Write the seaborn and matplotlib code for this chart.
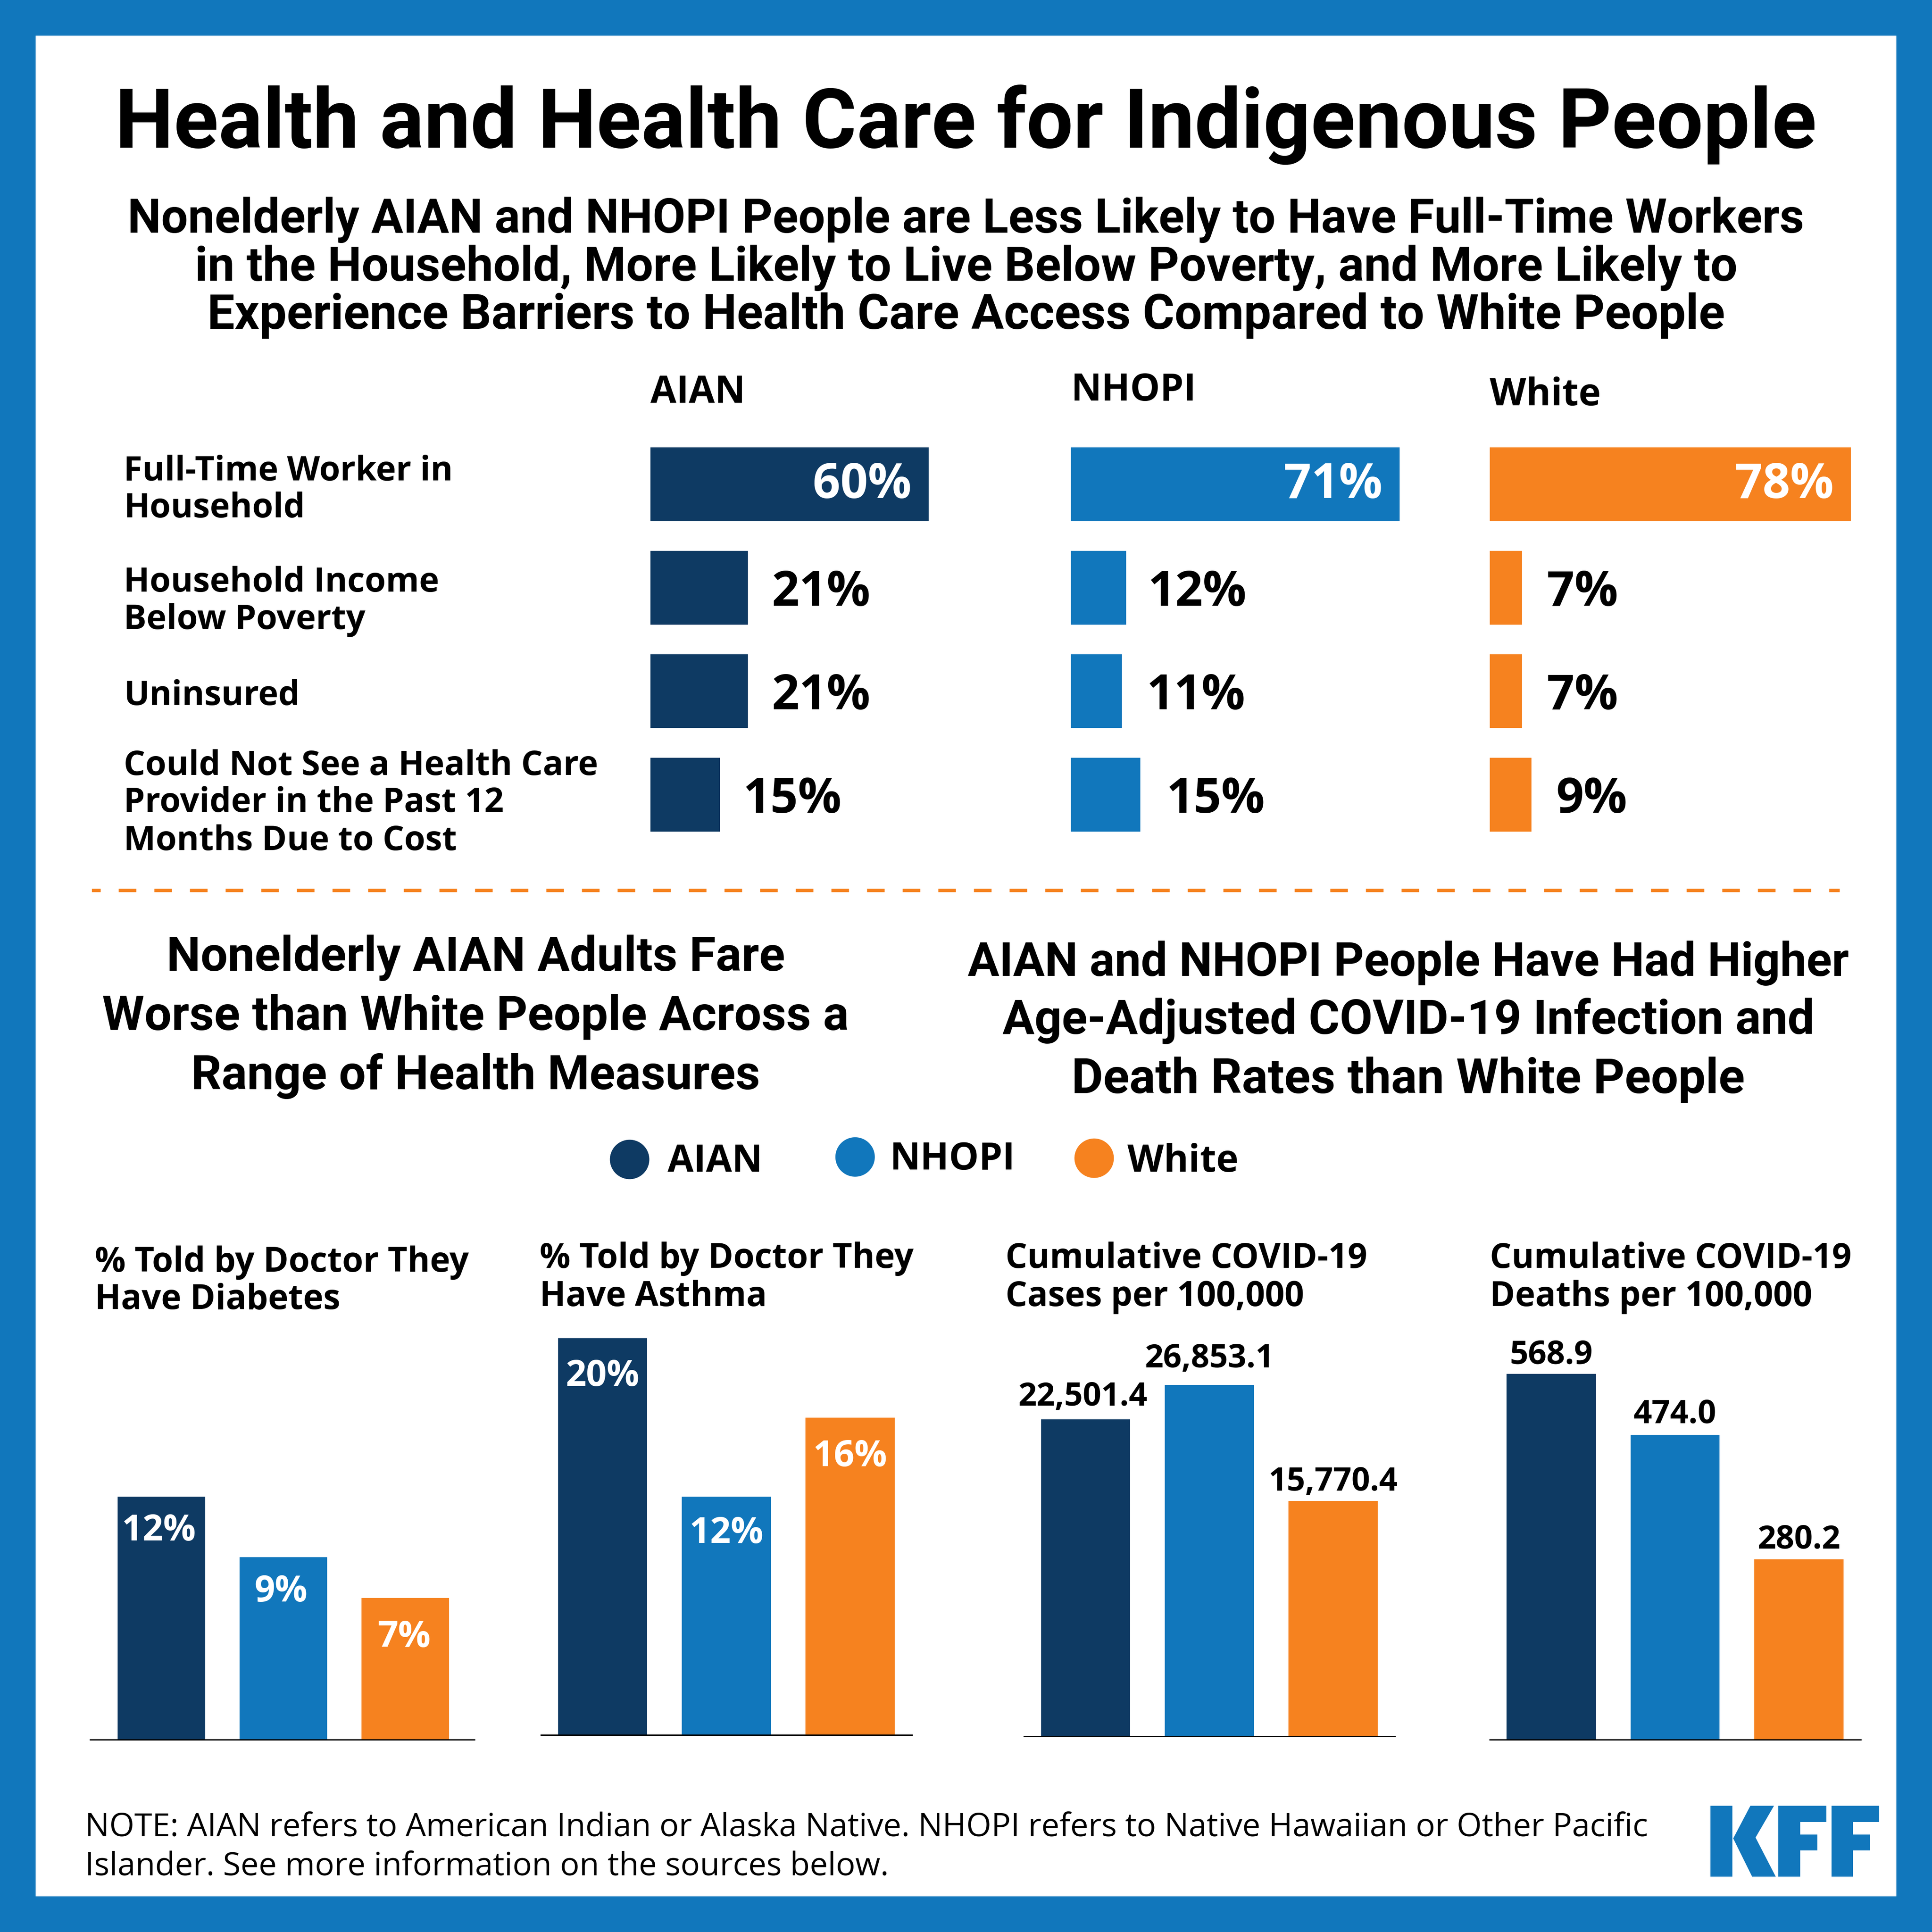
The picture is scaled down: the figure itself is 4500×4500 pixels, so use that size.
import matplotlib
matplotlib.use("Agg")
import matplotlib.pyplot as plt
from matplotlib.patches import Rectangle, Circle, Polygon
import seaborn as sns

sns.set_style("white")
plt.rcParams['font.family'] = ['Open Sans', 'DejaVu Sans']

NAVY = "#0E3A63"
BLUE = "#1177BC"
ORANGE = "#F6821F"
BLACK = "#000000"
HEAD = "Roboto"
BODY = "Open Sans"
U = 1568.0  # layout units of the overlay

groups = ["AIAN", "NHOPI", "White"]
palette = dict(zip(groups, [NAVY, BLUE, ORANGE]))

title = "Health and Health Care for Indigenous People"
subtitle = ["Nonelderly AIAN and NHOPI People are Less Likely to Have Full-Time Workers",
            "in the Household, More Likely to Live Below Poverty, and More Likely to",
            "Experience Barriers to Health Care Access Compared to White People"]
row_labels = [["Full-Time Worker in", "Household"],
              ["Household Income", "Below Poverty"],
              ["Uninsured"],
              ["Could Not See a Health Care", "Provider in the Past 12", "Months Due to Cost"]]
row_names = ["Full-Time Worker", "Below Poverty", "Uninsured", "Could Not See Provider"]
aian_rates = [60, 21, 21, 15]
nhopi_rates = [71, 12, 11, 15]
white_rates = [78, 7, 7, 9]

left_heading = ["Nonelderly AIAN Adults Fare", "Worse than White People Across a", "Range of Health Measures"]
right_heading = ["AIAN and NHOPI People Have Had Higher", "Age-Adjusted COVID-19 Infection and", "Death Rates than White People"]

diabetes = [12, 9, 7]
asthma = [20, 12, 16]
# bar lengths as drawn in the picture (not proportional to the printed numbers)
covid_cases_drawn = [24215, 26853.1, 17996]
covid_cases_labels = ["22,501.4", "26,853.1", "15,770.4"]
covid_deaths = [568.9, 474.0, 280.2]
covid_deaths_labels = ["568.9", "474.0", "280.2"]
note = ["NOTE: AIAN refers to American Indian or Alaska Native. NHOPI refers to Native Hawaiian or Other Pacific",
        "Islander. See more information on the sources below."]

fig = plt.figure(figsize=(15, 15), dpi=300, facecolor=BLUE)
ov = fig.add_axes([0, 0, 1, 1], zorder=0)
ov.set_xlim(0, U); ov.set_ylim(U, 0); ov.axis("off")
ov.add_patch(Rectangle((29, 29), 1510, 1510, fc="white", ec="none"))

PT = 4500 / U * 72 / 300  # points per layout unit


def T(x, y, s, size, font=BODY, weight="bold", ha="left", color=BLACK):
    ov.text(x, y, s, fontsize=size, family=font, fontweight=weight, ha=ha, va="baseline", color=color)


def px_axes(x0, y0, x1, y1):
    ax = fig.add_axes([x0 / U, 1 - y1 / U, (x1 - x0) / U, (y1 - y0) / U], zorder=2)
    ax.patch.set_alpha(0)
    return ax


T(784, 120, title, 46.3, HEAD, ha="center")
for y, s, fs in zip([189, 228, 267], subtitle, [26.6, 26.85, 27.1]):
    T(784, y, s, fs, HEAD, "semibold", "center")

for x, y, g in zip([528, 869, 1209], [327, 325, 329], groups):
    T(x, y, g, 21)
for ys, lines in zip([[390, 420], [480, 510.5], [572], [629, 659, 690]], row_labels):
    for y, s in zip(ys, lines):
        T(100.5, y, s, 19)


def hbars(x0, rates, color, offs):
    ax = px_axes(x0, 351, x0 + 310, 687)
    sns.barplot(x=rates, y=row_names, color=color, width=60 / 84, orient="h", ax=ax, saturation=1, linewidth=0)
    ax.set_xlim(0, 310 / 3.76)
    ax.set_ylim(3.5, -0.5)
    ax.axis("off")
    for i, v in enumerate(rates):
        if v > 50:
            ax.annotate(f"{v}%", (v, i), xytext=(-14 * PT, -1 * PT), textcoords="offset points", ha="right",
                        va="center", fontsize=27, fontweight="bold", color="white", family=BODY)
        else:
            ax.annotate(f"{v}%", (v, i), xytext=(offs[i] * PT, -4.5 * PT), textcoords="offset points", ha="left",
                        va="center", fontsize=27, fontweight="bold", color=BLACK, family=BODY)


hbars(528, aian_rates, NAVY, [0, 19.5, 19.5, 18.5])
hbars(869, nhopi_rates, BLUE, [0, 17.5, 20, 21])
hbars(1209, white_rates, ORANGE, [0, 20, 20, 20])

ov.plot([74.6, 1493], [722.6, 722.6], color=ORANGE, lw=1.92,
        linestyle=(2.56, (5.125, 5.25)), dash_capstyle="butt")

for y, s, fs in zip([788, 836, 884], left_heading, [26.85, 26.95, 26.7]):
    T(386, y, s, fs, HEAD, "semibold", "center")
for y, s, fs in zip([792, 839, 887], right_heading, [26.25, 26.6, 27.1]):
    T(1143, y, s, fs, HEAD, "semibold", "center")

for cx, cy, tx, ty, g in zip([511, 694, 888], [941, 939, 940], [542, 722, 915], [951, 949, 951], groups):
    ov.add_patch(Circle((cx, cy), 16, fc=palette[g], ec="none"))
    T(tx, ty, g, 21)


def vbars(x0, x1, base, centers, vals, pxperunit, labels, offs, inside, xoffs=(0, 0, 0)):
    top = 1060
    ax = px_axes(x0, top, x1, base)
    sns.barplot(x=groups, y=vals, hue=groups, palette=palette, legend=False, width=0.72, ax=ax, saturation=1,
                linewidth=0)
    pitch = (centers[2] - centers[0]) / 2
    ax.set_xlim((x0 - centers[0]) / pitch, (x1 - centers[0]) / pitch)
    ax.set_ylim(0, (base - top) / pxperunit)
    sns.despine(ax=ax, left=True)
    ax.spines["bottom"].set_linewidth(0.72)
    ax.spines["bottom"].set_color(BLACK)
    ax.set_xticks([]); ax.set_yticks([])
    ax.set_xlabel(""); ax.set_ylabel("")
    for i, (v, s, o, xo) in enumerate(zip(vals, labels, offs, xoffs)):
        ax.annotate(s, (i, v), xytext=(xo * PT, o * PT), textcoords="offset points", ha="center", va="center",
                    fontsize=20.2 if inside else 18.1, fontweight="bold", family=BODY,
                    color="white" if inside else BLACK, annotation_clip=False)


vbars(73, 385, 1412, [131, 229, 329], diabetes, 16.45, [f"{v}%" for v in diabetes], [-28, -28, -32], True, (-2, -2, -1))
vbars(439, 740, 1408, [489, 589.5, 690], asthma, 16.1, [f"{v}%" for v in asthma], [-31, -30, -32], True)
vbars(831, 1132, 1409, [881, 982, 1082], covid_cases_drawn, 285 / 26853.1, covid_cases_labels, [18, 21, 15], False, (-2.5, 0, 0))
vbars(1209, 1510, 1412, [1259, 1359.5, 1460], covid_deaths, 297 / 568.9, covid_deaths_labels, [15, 16.5, 16], False)

panel_titles = [["% Told by Doctor They", "Have Diabetes"], ["% Told by Doctor They", "Have Asthma"],
                ["Cumulative COVID-19", "Cases per 100,000"], ["Cumulative COVID-19", "Deaths per 100,000"]]
for x, ys, lines in zip([77, 438, 816, 1209], [[1032, 1062], [1029, 1060], [1029, 1060], [1029, 1060]], panel_titles):
    for y, s in zip(ys, lines):
        T(x, y, s, 19.1, BODY, "bold")

for y, s in zip([1490, 1522], note):
    T(69, y, s, 18.03, BODY, "normal")

# KFF logo
R = U / 4500
for pts in [
    [(3984, 4206), (4035, 4206), (4035, 4371), (3984, 4371)],
    [(4077, 4206), (4132, 4206), (4089, 4280), (4136, 4371), (4081, 4371), (4037, 4282)],
    [(4142, 4206), (4254, 4206), (4254, 4244), (4193, 4244), (4193, 4273), (4233, 4273), (4233, 4310), (4193, 4310), (4193, 4371), (4142, 4371)],
    [(4266, 4206), (4377, 4206), (4377, 4244), (4316, 4244), (4316, 4273), (4356, 4273), (4356, 4310), (4316, 4310), (4316, 4371), (4266, 4371)],
]:
    ov.add_patch(Polygon([(a * R, b * R) for a, b in pts], fc=BLUE, ec="none"))

fig.savefig("out.png", dpi=300, facecolor=BLUE)
